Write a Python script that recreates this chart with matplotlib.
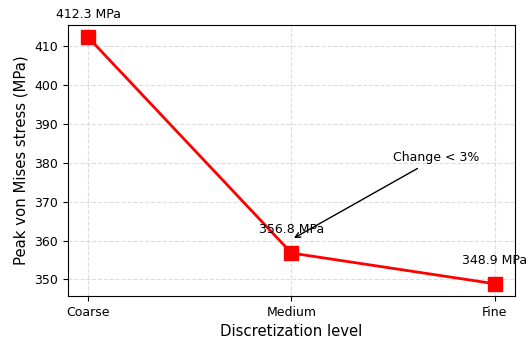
import matplotlib
matplotlib.use("Agg")
import matplotlib.pyplot as plt


LEVELS = ["Coarse", "Medium", "Fine"]
STRESS = [412.3, 356.8, 348.9]
LABELS = ["412.3 MPa", "356.8 MPa", "348.9 MPa"]


def main():

    fig, ax = plt.subplots(figsize=(5.3, 3.38), dpi=100)

    x = list(range(len(LEVELS)))

    ax.plot(x, STRESS, color="red", linewidth=2, marker="s", markersize=10)

    for xi, yi, label in zip(x, STRESS, LABELS):
        ax.annotate(
            label,
            (xi, yi),
            textcoords="offset points",
            xytext=(0, 12),
            ha="center",
            va="bottom",
            fontsize=9,
            annotation_clip=False
        )

    ax.annotate(
        "Change < 3%",
        xy=(1.0, 360.3),
        xytext=(1.5, 380.4),
        fontsize=9,
        arrowprops=dict(arrowstyle="->", color="black", linewidth=1)
    )

    ax.set_xticks(x)
    ax.set_xticklabels(LEVELS)
    ax.tick_params(labelsize=9)
    ax.set_xlabel("Discretization level", fontsize=10.7)
    ax.set_ylabel("Peak von Mises stress (MPa)", fontsize=10.7)
    ax.grid(True, linestyle="--", color="#dddddd", linewidth=0.8)

    fig.subplots_adjust(left=0.128, right=0.972, top=0.926, bottom=0.124)
    fig.savefig("out.png", dpi=100)


if __name__ == "__main__":
    main()
